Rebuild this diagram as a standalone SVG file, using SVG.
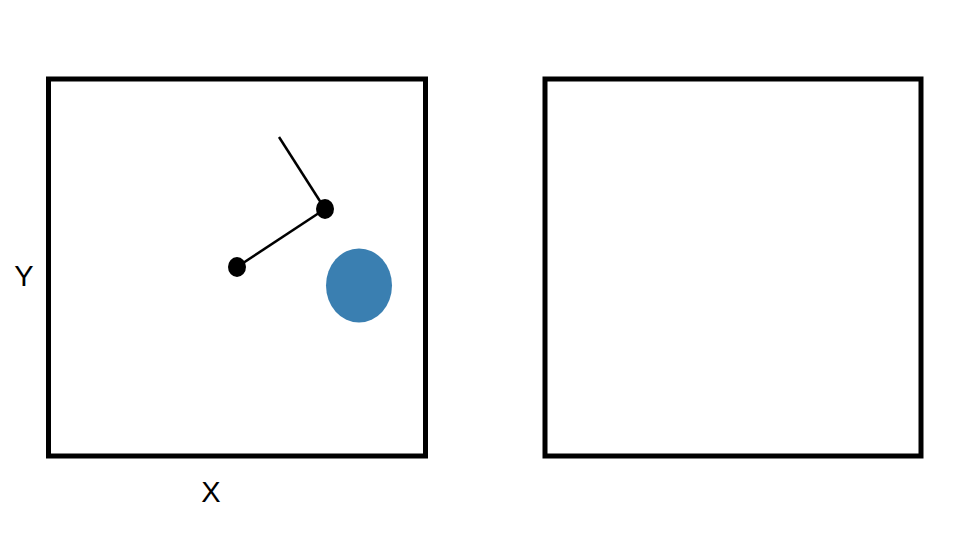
<svg xmlns="http://www.w3.org/2000/svg" width="960" height="540" viewBox="0 0 960 540">
<style>
.frame{fill:none;stroke:#000;stroke-width:5}
.lbl{font-family:"Liberation Sans",Arial,sans-serif;font-size:29px;fill:#000;text-anchor:middle}
.link{stroke:#000;stroke-width:2.5;fill:none}
.joint{fill:#000}
</style>
<rect width="960" height="540" fill="#fff"/>
<g id="left-panel"><rect class="frame" x="48.5" y="79" width="377" height="377"/></g>
<g id="right-panel"><rect class="frame" x="545" y="79" width="376" height="377"/></g>
<g id="connectors">
<line class="link" x1="279" y1="137" x2="325" y2="209"/>
<line class="link" x1="325" y1="209" x2="237" y2="267"/>
</g>
<g id="joint-1"><ellipse class="joint" cx="325" cy="209" rx="9" ry="10"/></g>
<g id="joint-2"><ellipse class="joint" cx="237" cy="267" rx="9" ry="10"/></g>
<g id="target"><ellipse cx="359" cy="285.5" rx="33" ry="37" fill="#3a7fb1"/></g>
<g id="label-y"><text class="lbl" x="24" y="286">Y</text></g>
<g id="label-x"><text class="lbl" x="211" y="502">X</text></g>
</svg>
